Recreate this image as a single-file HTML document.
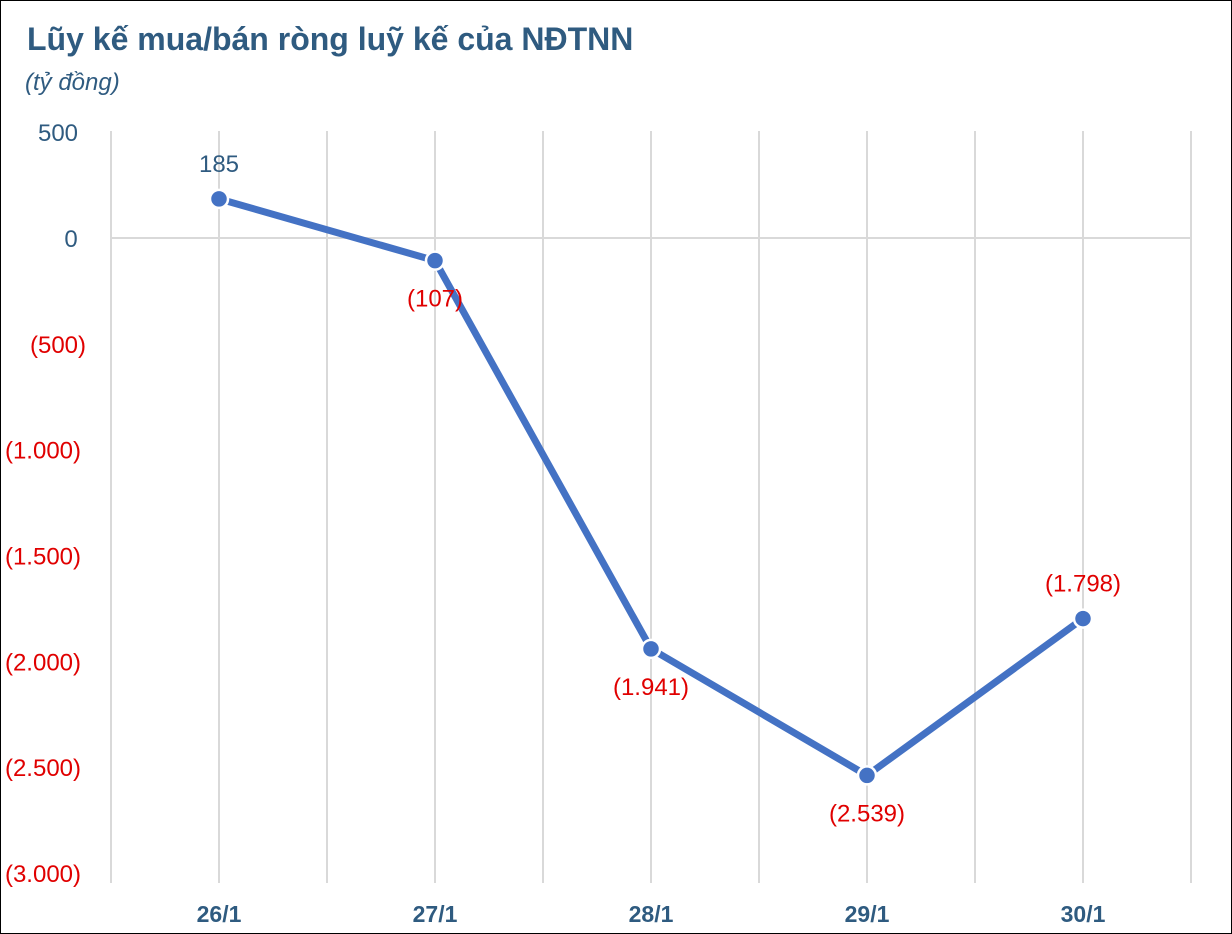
<!DOCTYPE html>
<html><head><meta charset="utf-8"><style>
body{margin:0;background:#fff}
#wrap{position:relative;width:1230px;height:932px;border:1px solid #000;overflow:hidden;font-family:"Liberation Sans",sans-serif}
#title{position:absolute;left:26px;top:20px;font-size:32px;font-weight:bold;color:#2f5b80;white-space:nowrap}
#sub{position:absolute;left:24px;top:68px;font-size:24px;font-style:italic;color:#2f5b80}
</style></head><body>
<div id="wrap">
<div id="title">Lũy kế mua/bán ròng luỹ kế của NĐTNN</div>
<div id="sub">(tỷ đồng)</div>
<svg id="svg" width="1230" height="932" style="position:absolute;left:0;top:0"></svg>
</div>
<script>
const categories=["26/1","27/1","28/1","29/1","30/1"];
const values=[185,-107,-1941,-2539,-1798];
const valueLabels=["185","(107)","(1.941)","(2.539)","(1.798)"];
const yTicks=[500,0,-500,-1000,-1500,-2000,-2500,-3000];
const yTickLabels=["500","0","(500)","(1.000)","(1.500)","(2.000)","(2.500)","(3.000)"];
const NS="http://www.w3.org/2000/svg";
const svg=document.getElementById('svg');
const x0=110,x1=1190,yTop=130,yBot=882;
const step=(x1-x0)/categories.length;
function xs(i){return x0+step*(i+0.5);}
function ys(v){return 237+(0-v)*(872-237)/3000;}
function mk(t,a,txt){const e=document.createElementNS(NS,t);for(const k in a)e.setAttribute(k,a[k]);if(txt!==undefined)e.textContent=txt;svg.appendChild(e);return e;}
for(let i=0;i<=categories.length*2;i++){
 const x=x0+step/2*i;
 const l=mk('line',{x1:x,x2:x,y1:yTop,y2:yBot,stroke:'#d9d9d9','stroke-width':2});
 
 
}
const zl=mk('line',{x1:x0,x2:x1,y1:ys(0),y2:ys(0),stroke:'#d9d9d9','stroke-width':2});


yTicks.forEach((v,i)=>{
 const xx=v>0?57:(v==0?70:(v==-500?57:42));
 const t=mk('text',{x:xx,y:ys(v)+9,'font-size':24,fill:v<0?'#e00000':'#2f5b80','text-anchor':'middle'},yTickLabels[i]);
 
 
});
categories.forEach((c,i)=>{
 const t=mk('text',{x:xs(i),y:921,'font-size':23,'font-weight':'bold',fill:'#2f5b80','text-anchor':'middle'},c);
 
 
});
const pts=values.map((v,i)=>xs(i)+','+ys(v)).join(' ');
const pl=mk('polyline',{points:pts,fill:'none',stroke:'#4472c4','stroke-width':7,'stroke-linejoin':'round'});


const off=[-27,46,46,46,-27];
values.forEach((v,i)=>{
 const c=mk('circle',{cx:xs(i),cy:ys(v),r:9,fill:'#4472c4',stroke:'#fff','stroke-width':2.5});
 
 
 const t=mk('text',{x:xs(i),y:ys(v)+off[i],'font-size':24,fill:v<0?'#e00000':'#2f5b80','text-anchor':'middle'},valueLabels[i]);
 
 
});
</script>
</body></html>
